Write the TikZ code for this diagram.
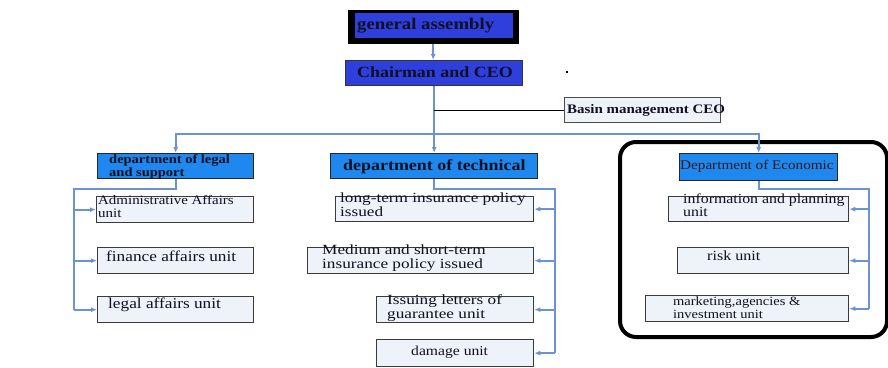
\documentclass[tikz,border=0pt]{standalone}
\usepackage{fontspec}
\setmainfont{Liberation Serif}[FakeStretch=1.15]
\newfontfamily\widefont{Liberation Serif}[FakeStretch=1.23]
\usetikzlibrary{arrows.meta}
\definecolor{linkblue}{HTML}{6A93D4}
\definecolor{deptblue}{HTML}{1E88EE}
\definecolor{topblue}{HTML}{2F3FDC}
\definecolor{unitfill}{HTML}{EEF2F9}
\definecolor{unitline}{HTML}{3A3A3A}
\definecolor{darktxt}{HTML}{101020}
\definecolor{econtxt}{HTML}{301818}
\newcommand{\myfs}[1]{\fontsize{#1}{#1}\selectfont}
\begin{document}
\begin{tikzpicture}[x=1pt,y=-1pt,
  boxbase/.style={inner sep=0, anchor=north west, line width=1.3pt},
  unitbox/.style={boxbase, draw=unitline, fill=unitfill},
  deptbox/.style={boxbase, draw=black!85, fill=deptblue},
  topbox/.style={boxbase, draw=black!80, fill=topblue},
  txt/.style={inner sep=0, anchor=base west, text=darktxt},
  widetxt/.style={txt, font=\widefont\myfs{14}},
  link/.style={draw=linkblue, line width=1.8pt},
  tip/.style={-{Latex[length=6pt,width=5pt]}},
]
\useasboundingbox (0,0) rectangle (888,367);

% top
\node[boxbase, fill=black, minimum width=171, minimum height=34] (gen) at (347,9) {};
\node[boxbase, fill=topblue, line width=0pt, minimum width=158, minimum height=25] (genin) at (355,13) {};
\node[txt, font=\bfseries\myfs{16.3}] (gent) at (357,29) {general assembly};

\node[topbox, minimum width=177, minimum height=25] (chair) at (345,60) {};
\node[txt, font=\bfseries\myfs{15.6}] (chairt) at (357,77) {Chairman and CEO};

\node[fill=black, inner sep=0, minimum size=2.2pt] (dot) at (567,72) {};

\node[unitbox, draw=black!70, minimum width=156, minimum height=25] (basin) at (564,97) {};
\node[txt, font=\bfseries\myfs{13}] (basint) at (567,113) {Basin management CEO};

% departments
\node[deptbox, minimum width=156, minimum height=25] (legal) at (97,153) {};
\node[txt, font=\bfseries\myfs{12.6}] (legalt1) at (109,163.5) {department of legal};
\node[txt, font=\bfseries\myfs{12.6}] (legalt2) at (109,176) {and support};

\node[deptbox, minimum width=207, minimum height=25] (tech) at (330,153) {};
\node[txt, font=\bfseries\myfs{15.6}] (techt) at (343,170) {department of technical};

\node[draw=black, line width=4pt, rounded corners=16pt, inner sep=0, anchor=north west,
      minimum width=267, minimum height=195] (frame) at (618,140) {};
\node[deptbox, minimum width=158, minimum height=27] (econ) at (679,153) {};
\node[txt, text=econtxt, font=\myfs{13.2}] (econt) at (680,169) {Department of Economic};

% legal units
\node[unitbox, minimum width=157, minimum height=26] (admin) at (96,196) {};
\node[txt, font=\myfs{13}] (admint1) at (98,204) {Administrative Affairs};
\node[txt, font=\myfs{13}] (admint2) at (98,217) {unit};
\node[unitbox, minimum width=156, minimum height=26] (finance) at (97,247) {};
\node[txt, font=\myfs{15}] (financet) at (106,261) {finance affairs unit};
\node[unitbox, minimum width=156, minimum height=26] (legalaff) at (97,296) {};
\node[txt, font=\myfs{15}] (legalafft) at (108,308) {legal affairs unit};

% technical units
\node[unitbox, minimum width=198, minimum height=25] (long) at (335,196) {};
\node[widetxt] (longt1) at (340,202.5) {long-term insurance policy};
\node[widetxt] (longt2) at (340,216.5) {issued};
\node[unitbox, minimum width=226, minimum height=26] (medium) at (307,247) {};
\node[widetxt] (mediumt1) at (322,254.5) {Medium and short-term};
\node[widetxt] (mediumt2) at (322,268.5) {insurance policy issued};
\node[unitbox, minimum width=157, minimum height=26] (issuing) at (376,296) {};
\node[widetxt] (issuingt1) at (387,304.5) {Issuing letters of};
\node[widetxt] (issuingt2) at (387,318.5) {guarantee unit};
\node[unitbox, minimum width=157, minimum height=27] (damage) at (376,339) {};
\node[txt, font=\myfs{13.6}] (damaget) at (411,355) {damage unit};

% economic units
\node[unitbox, minimum width=180, minimum height=25] (info) at (668,196) {};
\node[txt, font=\myfs{13.8}] (infot1) at (683,203) {information and planning};
\node[txt, font=\myfs{13.8}] (infot2) at (683,216) {unit};
\node[unitbox, minimum width=171, minimum height=26] (risk) at (677,247) {};
\node[txt, font=\myfs{14}] (riskt) at (707,260) {risk unit};
\node[unitbox, minimum width=203, minimum height=26] (mkt) at (645,295) {};
\node[txt, font=\myfs{12.6}] (mktt1) at (673,305.5) {marketing,agencies \&};
\node[txt, font=\myfs{12.6}] (mktt2) at (673,318) {investment unit};

% connectors
\draw[link, tip] (gen.south) -- (gen.south |- chair.north);
\draw[link, tip] (chair.south) -- (chair.south |- tech.north);
\coordinate (bj) at (chair.south |- basin.west);
\draw[black, line width=1pt] (bj) -- (basin.west);
\coordinate (hb) at ([yshift=-134pt]chair.south |- 0,0);
\draw[link, tip] (hb) -| (legal.north);
\draw[link, tip] (hb) -| (econ.north);

\coordinate (lb) at (74,189);
\draw[link] (legal.south) |- (lb) -- (lb |- legalaff.west);
\draw[link, tip] (lb |- admin.west) -- (admin.west);
\draw[link, tip] (lb |- finance.west) -- (finance.west);
\draw[link, tip] (lb |- legalaff.west) -- (legalaff.west);

\coordinate (tb) at (555,189);
\draw[link] (tech.south) |- (tb) -- (tb |- damage.east);
\draw[link, tip] (tb |- long.east) -- (long.east);
\draw[link, tip] (tb |- medium.east) -- (medium.east);
\draw[link, tip] (tb |- issuing.east) -- (issuing.east);
\draw[link, tip] (tb |- damage.east) -- (damage.east);

\coordinate (eb) at (869,189);
\draw[link] (econ.south) |- (eb) -- (eb |- mkt.east);
\draw[link, tip] (eb |- info.east) -- (info.east);
\draw[link, tip] (eb |- risk.east) -- (risk.east);
\draw[link, tip] (eb |- mkt.east) -- (mkt.east);
\end{tikzpicture}
\end{document}
